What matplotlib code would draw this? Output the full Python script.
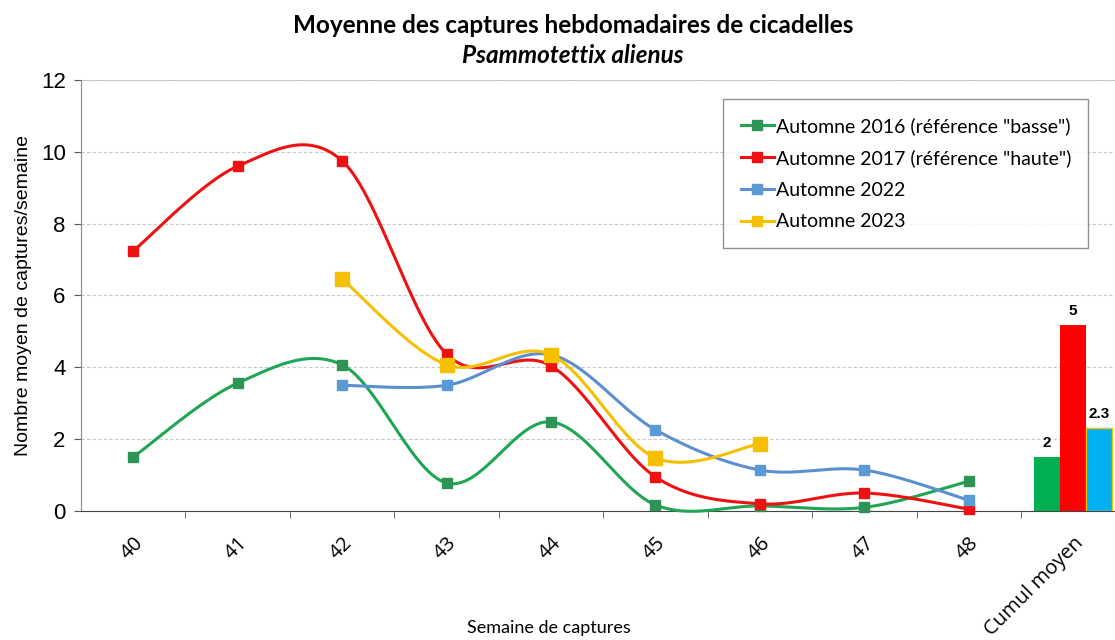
import numpy as np
import matplotlib.pyplot as plt

weeks = ["40", "41", "42", "43", "44", "45", "46", "47", "48"]
cumul_label = "Cumul moyen"

auto_2016 = [1.5, 3.56, 4.07, 0.78, 2.48, 0.17, 0.14, 0.1, 0.83]
auto_2017 = [7.24, 9.6, 9.75, 4.37, 4.04, 0.95, 0.2, 0.5, 0.05]
auto_2022 = [None, None, 3.5, 3.5, 4.35, 2.26, 1.14, 1.14, 0.3]
auto_2023 = [None, None, 6.46, 4.07, 4.35, 1.48, 1.87, None, None]

cumul_values = [1.5, 5.18, 2.3]
cumul_texts = ["2", "5", "2.3"]

labels = ['Automne 2016 (référence "basse")', 'Automne 2017 (référence "haute")',
          "Automne 2022", "Automne 2023"]
line_colors = ["#1fa653", "#ee1111", "#5b8fd0", "#f5c000"]
marker_colors = ["#2e9455", "#ee1111", "#5b9bd5", "#f5c000"]
bar_colors = ["#00b050", "#ff0000", "#00b0f0"]


def smooth(xs, ys, n=30):
    # Excel-like smoothed line (Catmull-Rom / bezier)
    xs = np.asarray(xs, float)
    ys = np.asarray(ys, float)
    if len(xs) < 2:
        return xs, ys
    px = np.concatenate([[xs[0]], xs, [xs[-1]]])
    py = np.concatenate([[ys[0]], ys, [ys[-1]]])
    outx, outy = [], []
    t = np.linspace(0, 1, n)
    for i in range(1, len(px) - 2):
        p0 = np.array([px[i], py[i]])
        p3 = np.array([px[i + 1], py[i + 1]])
        c1 = p0 + (np.array([px[i + 1], py[i + 1]]) - np.array([px[i - 1], py[i - 1]])) / 6
        c2 = p3 - (np.array([px[i + 2], py[i + 2]]) - np.array([px[i], py[i]])) / 6
        b = ((1 - t) ** 3)[:, None] * p0 + (3 * (1 - t) ** 2 * t)[:, None] * c1 \
            + (3 * (1 - t) * t ** 2)[:, None] * c2 + (t ** 3)[:, None] * p3
        outx.extend(b[:, 0])
        outy.extend(b[:, 1])
    return np.array(outx), np.array(outy)


fig = plt.figure(figsize=(11.15, 6.4), dpi=100)
ax = fig.add_axes([0.0726, 0.2016, 0.9274, 0.6734])

series = [auto_2016, auto_2017, auto_2022, auto_2023]
for k, s in enumerate(series):
    xs = [i for i, v in enumerate(s) if v is not None]
    ys = [v for v in s if v is not None]
    sx, sy = smooth(xs, ys)
    ms = 10 if k == 3 else 7
    ax.plot(sx, sy, color=line_colors[k], lw=2.2, zorder=3 + k, clip_on=False)
    ax.plot(xs, ys, ls="none", marker="s", ms=ms, color=marker_colors[k],
            mec=marker_colors[k], zorder=3 + k, clip_on=False)
    ax.plot([], [], color=line_colors[k], lw=2.2, marker="s", ms=7,
            mfc=marker_colors[k], mec=marker_colors[k], label=labels[k])

bx = len(weeks)
offsets = [-0.25, 0.0, 0.25]
for j, v in enumerate(cumul_values):
    ec = "#f5c000" if j == 2 else "none"
    ax.bar(bx + offsets[j], v, width=0.25, color=bar_colors[j], edgecolor=ec,
           lw=1, zorder=3)
    ax.text(bx + offsets[j], v + 0.2, cumul_texts[j], ha="center", va="bottom",
            fontsize=11, fontweight="bold", family="Liberation Sans")

ax.set_xlim(-0.5, 9.4)
ax.set_ylim(0, 12)
ax.set_yticks(range(0, 13, 2))
ax.set_xticks(range(len(weeks) + 1))
ax.set_xticklabels(weeks + [cumul_label], rotation=45, ha="right",
                   rotation_mode="anchor", family="Open Sans", fontsize=14.5)
ax.set_xticks(np.arange(0.5, len(weeks) + 0.5, 1), minor=True)
ax.tick_params(axis="x", which="major", length=0, pad=16)
ax.tick_params(axis="x", which="minor", length=5, color="#555555")
ax.tick_params(axis="y", length=5, color="#555555", labelsize=16, pad=6)
for lab in ax.get_yticklabels():
    lab.set_family("Liberation Sans")

ax.yaxis.grid(True, ls=(0, (3, 2)), color="#c8c8c8", lw=0.8)
ax.set_axisbelow(True)
ax.axhline(12, color="#c8c8c8", lw=0.8, zorder=1)
for sp in ["top", "right"]:
    ax.spines[sp].set_visible(False)
ax.spines["left"].set_color("#888888")
ax.spines["bottom"].set_color("#444444")

ax.set_ylabel("Nombre moyen de captures/semaine", family="Liberation Sans",
              fontsize=14, labelpad=6)
fig.text(0.492, 0.006, "Semaine de captures", ha="center", va="bottom",
         family="Lato", fontsize=13)

fig.text(0.514, 0.96, "Moyenne des captures hebdomadaires de cicadelles",
         ha="center", va="center", fontsize=17.5, fontweight="bold", family="Lato")
fig.text(0.514, 0.913, "Psammotettix alienus", ha="center", va="center",
         fontsize=17.5, fontweight="bold", style="italic", family="Lato")

leg = ax.legend(loc="upper left", bbox_to_anchor=(0.621, 0.955), frameon=True,
                fancybox=False, edgecolor="#777777",
                prop={"family": "Lato", "size": 14}, handlelength=1.7,
                handletextpad=0.1, labelspacing=0.75, borderpad=0.9,
                borderaxespad=0)
leg.get_frame().set_linewidth(1.0)

fig.savefig("out.png", dpi=100)
